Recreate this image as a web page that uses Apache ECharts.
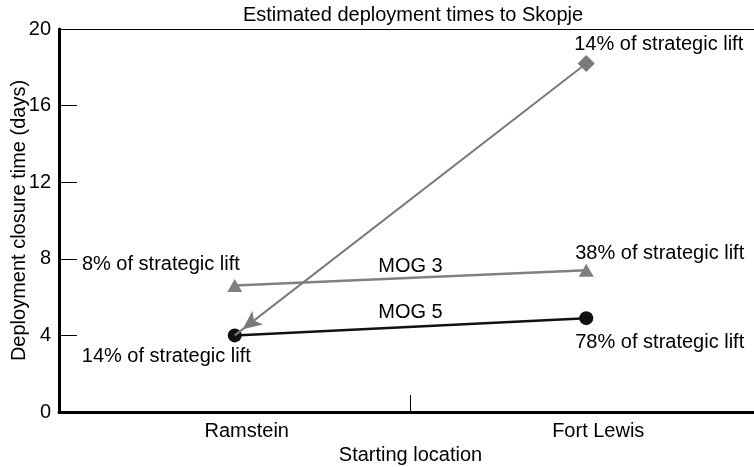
<!DOCTYPE html>
<html>
<head>
<meta charset="utf-8">
<script src="https://cdn.jsdelivr.net/npm/echarts@6/dist/echarts.min.js"></script>
<style>
  html, body { margin: 0; padding: 0; background: #fff; }
  #main { width: 754px; height: 467px; }
</style>
</head>
<body>
<div id="main"></div>
<script>
// data
var categories = ["Ramstein", "Fort Lewis"];
var mog3 = [6.6, 7.4];
var mog5 = [4.0, 4.9];
var liftLine = [4.0, 18.2];
var mog3Labels = ["8% of strategic lift", "38% of strategic lift"];
var mog5Labels = ["14% of strategic lift", "78% of strategic lift"];
var liftLabels = ["", "14% of strategic lift"];
var yTicks = [0, 4, 8, 12, 16, 20];

var font = "'Liberation Sans', Arial, Helvetica, sans-serif";
var myChart = echarts.init(document.getElementById("main"));

function lbl(text, align, offset) {
  return {
    show: true,
    formatter: text,
    position: "inside",
    align: align,
    verticalAlign: "middle",
    offset: offset,
    color: "#000",
    fontSize: 20,
    fontFamily: font
  };
}

var option = {
  animation: false,
  textStyle: { fontFamily: font },
  title: {
    text: "Estimated deployment times to Skopje",
    left: 408,
    textAlign: "center",
    top: 0,
    textStyle: { fontSize: 20, fontWeight: "normal", color: "#000", fontFamily: font }
  },
  grid: { left: 59, right: -8, top: 29, bottom: 55, containLabel: false, outerBoundsMode: "none" },
  xAxis: [
    {
      type: "category",
      data: categories,
      name: "Starting location",
      nameLocation: "middle",
      nameGap: 32,
      nameTextStyle: { fontSize: 20, color: "#000", fontFamily: font },
      axisLine: { lineStyle: { color: "#000", width: 3 } },
      axisTick: { show: true, interval: 0, inside: true, length: 17, lineStyle: { color: "#000", width: 1 } },
      axisLabel: { fontSize: 20, color: "#000", margin: 9, padding: [0, 0, 0, 24], fontFamily: font }
    },
    {
      type: "category",
      data: categories,
      position: "top",
      axisLine: { lineStyle: { color: "#000", width: 1 } },
      axisTick: { show: false },
      axisLabel: { show: false }
    }
  ],
  yAxis: {
    type: "value",
    min: yTicks[0],
    max: yTicks[yTicks.length - 1],
    interval: 4,
    name: "Deployment closure time (days)",
    nameLocation: "middle",
    nameGap: 30,
    nameMoveOverlap: false,
    nameTextStyle: { fontSize: 20, color: "#000", fontFamily: font },
    axisLine: { show: true, lineStyle: { color: "#000", width: 3 } },
    axisTick: { show: true, inside: true, length: 18, lineStyle: { color: "#000", width: 1 } },
    axisLabel: { fontSize: 20, color: "#000", margin: 8, fontFamily: font },
    splitLine: { show: false }
  },
  series: [
    {
      name: "Strategic lift",
      type: "line",
      data: liftLine.map(function (v, i) {
        return {
          value: v,
          symbol: i === 1 ? "diamond" : "none",
          symbolSize: 17,
          label: lbl(liftLabels[i], "left", [-12, -19])
        };
      }),
      itemStyle: { color: "#7a7a7a" },
      lineStyle: { opacity: 0 },
      markLine: {
        silent: true,
        symbol: ["none", "arrow"],
        symbolSize: [13, 19],
        symbolOffset: [0, [0, 10]],
        label: { show: false },
        lineStyle: { color: "#7a7a7a", width: 2, type: "solid" },
        data: [[{ coord: [categories[1], liftLine[1]] }, { coord: [categories[0], liftLine[0]] }]]
      },
      z: 2
    },
    {
      name: "MOG 3",
      type: "line",
      data: mog3.map(function (v, i) {
        return {
          value: v,
          label: i === 0 ? lbl(mog3Labels[i], "right", [5, -21]) : lbl(mog3Labels[i], "left", [-11, -17])
        };
      }),
      symbol: "triangle",
      symbolSize: [15, 13],
      itemStyle: { color: "#7f7f7f" },
      lineStyle: { color: "#808080", width: 2.5 },
      z: 3
    },
    {
      name: "MOG 5",
      type: "line",
      data: mog5.map(function (v, i) {
        return {
          value: v,
          label: i === 0 ? lbl(mog5Labels[i], "right", [16, 21]) : lbl(mog5Labels[i], "left", [-11, 24])
        };
      }),
      symbol: "circle",
      symbolSize: 14,
      itemStyle: { color: "#111" },
      lineStyle: { color: "#111", width: 2.5 },
      z: 4
    }
  ]
};
myChart.setOption(option);

// series names placed above the middle of each line
function midLabel(name, values, dy) {
  var a = myChart.convertToPixel({ seriesIndex: 0 }, [0, values[0]]);
  var b = myChart.convertToPixel({ seriesIndex: 0 }, [1, values[1]]);
  return {
    type: "text",
    x: (a[0] + b[0]) / 2,
    y: (a[1] + b[1]) / 2 + dy,
    style: {
      text: name,
      fill: "#000",
      font: "20px " + font,
      align: "center",
      verticalAlign: "middle"
    }
  };
}
myChart.setOption({
  graphic: [midLabel("MOG 3", mog3, -11), midLabel("MOG 5", mog5, -14)]
});
</script>
</body>
</html>
